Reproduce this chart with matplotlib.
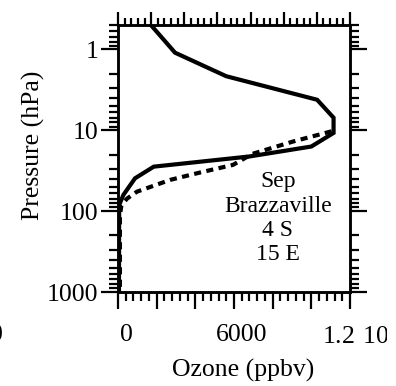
import numpy as np
import matplotlib
matplotlib.use("Agg")
import matplotlib.pyplot as plt
from matplotlib.ticker import MultipleLocator, LogLocator, NullFormatter, FixedLocator
from matplotlib.transforms import ScaledTranslation, Bbox, TransformedBbox

plt.rcParams['font.family'] = ['Liberation Serif', 'DejaVu Serif']
plt.rcParams['mathtext.fontset'] = 'custom'
plt.rcParams['mathtext.rm'] = 'Liberation Serif'

# Observed profile (solid)
obs_ozone = [1700, 2950, 5600, 10300, 11150, 11150, 10000, 6800, 1850, 880, 280, 60, 50]
obs_pres = [0.5, 1.1, 2.15, 4.2, 7.0, 10.8, 15.9, 21.1, 28.2, 39.3, 63.0, 84.0, 1000.0]
# Model profile (dashed)
mod_ozone = [11050, 9050, 6950, 5950, 4250, 2700, 980, 470, 180, 100, 100]
mod_pres = [10.3, 13.8, 19.6, 26.8, 33.3, 41.1, 57.5, 70.0, 84.0, 112.0, 1000.0]

xticks_labeled = [0, 6000, 12000]
xtick_labels = ['0', '6000', '1.2 \u200a10$^{4}$']
yticks = [1, 10, 100, 1000]
ytick_labels = ['1', '10', '100', '1000']
station_lines = ['Sep', 'Brazzaville', '4 S', '15 E']

W, H = 396, 386
fig = plt.figure(figsize=(W / 100, H / 100), dpi=100)
ax = fig.add_axes([118 / W, 1 - 292 / H, 232 / W, 267 / H])

ax.plot(obs_ozone, obs_pres, color='black', lw=3.0, solid_joinstyle='miter')
ax.plot(mod_ozone, mod_pres, color='black', lw=3.0, dashes=(1.7, 1.3))

ax.set_yscale('log')
ax.set_ylim(1000, 0.5)
ax.set_xlim(0, 12000)

for s in ax.spines.values():
    s.set_linewidth(1.8)

# y axis ticks on both sides, outward
ax.yaxis.set_major_locator(FixedLocator(yticks))
ax.set_yticklabels(ytick_labels)
ax.yaxis.set_minor_locator(LogLocator(base=10, subs=np.arange(2, 10), numticks=20))
ax.yaxis.set_minor_formatter(NullFormatter())
ax.tick_params(axis='y', which='major', direction='out', length=12, width=1.6,
               left=True, right=True, labelsize=18.5, pad=2)
ax.tick_params(axis='y', which='minor', direction='out', length=6.5, width=1.6,
               left=True, right=True)

# bottom x ticks
ax.xaxis.set_major_locator(MultipleLocator(2000))
ax.xaxis.set_minor_locator(MultipleLocator(400))
ax.xaxis.set_major_formatter(NullFormatter())
ax.tick_params(axis='x', which='major', direction='out', length=12.5, width=1.6,
               bottom=True, top=False)
ax.tick_params(axis='x', which='minor', direction='out', length=6.5, width=1.6,
               bottom=True, top=False)

clip = TransformedBbox(Bbox([[0, 0], [387 / W, 1]]), fig.transFigure)
label_offsets = [(8, 'center'), (8, 'center'), (-28, 'left')]
for xv, lab, (dx, ha) in zip(xticks_labeled, xtick_labels, label_offsets):
    tr = ax.get_xaxis_transform() + ScaledTranslation(dx / 100, 0, fig.dpi_scale_trans)
    t = ax.text(xv, -0.16, lab, transform=tr, ha=ha, va='center', fontsize=18.5)
    t.set_clip_box(clip)
    t.set_clip_on(True)

# top axis
axt = ax.twiny()
axt.set_xlim(0, 12000)
axt.xaxis.set_major_locator(MultipleLocator(12000 / 7))
axt.xaxis.set_minor_locator(MultipleLocator(12000 / 35))
axt.xaxis.set_major_formatter(NullFormatter())
axt.tick_params(axis='x', which='major', direction='out', length=9.5, width=1.6)
axt.tick_params(axis='x', which='minor', direction='out', length=5, width=1.6)
for s in axt.spines.values():
    s.set_linewidth(1.8)

fig.text(33 / W, 1 - 145 / H, 'Pressure (hPa)', rotation=90, ha='center', va='center', fontsize=18.5)
fig.text(243.5 / W, 1 - 370 / H, 'Ozone (ppbv)', ha='center', va='center', fontsize=18.5)
# neighbouring panel's cut-off label
fig.text(-4 / W, 1 - 335 / H, '0', ha='center', va='center', fontsize=18.5)

for py, line in zip([182, 206, 230, 254], station_lines):
    fig.text(278 / W, 1 - py / H, line, ha='center', va='center', fontsize=17)

fig.savefig('out.png', dpi=100)
